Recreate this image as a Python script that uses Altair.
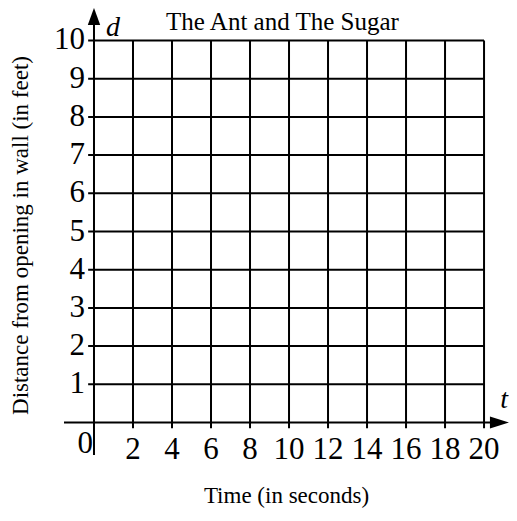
import altair as alt
import pandas as pd

# ---- data ----
title_text = "The Ant and The Sugar"
x_title = "Time (in seconds)"
y_title = "Distance from opening in wall (in feet)"
x_tick_values = [2, 4, 6, 8, 10, 12, 14, 16, 18, 20]
x_tick_labels = ["2", "4", "6", "8", "10", "12", "14", "16", "18", "20"]
y_tick_values = [1, 2, 3, 4, 5, 6, 7, 8, 9, 10]
y_tick_labels = ["1", "2", "3", "4", "5", "6", "7", "8", "9", "10"]
x_min, x_max = 0, 20
y_min, y_max = 0, 10
x_domain = [-1.538, 21.28]
y_domain = [-0.85, 10.85]

FONT = "Liberation Serif"
W, H = 445, 447

xs = alt.Scale(domain=x_domain, nice=False, zero=False)
ys = alt.Scale(domain=y_domain, nice=False, zero=False)
x_axis = alt.Axis(title=x_title, labels=False, ticks=False, domain=False, grid=False,
                  titleFont=FONT, titleFontSize=23, titleFontWeight="normal", titleColor="black",
                  titleX=222, titleY=40, titleAlign="center", titleBaseline="middle")
y_axis = alt.Axis(title=y_title, labels=False, ticks=False, domain=False, grid=False,
                  titleFont=FONT, titleFontSize=23, titleFontWeight="normal", titleColor="black",
                  titleX=-44, titleY=227, titleAlign="center", titleBaseline="middle", titleAngle=270)


def X(field):
    return alt.X(field, type="quantitative", scale=xs, axis=x_axis)


def Y(field):
    return alt.Y(field, type="quantitative", scale=ys, axis=y_axis)


vgrid_df = pd.DataFrame({"t": x_tick_values, "y0": [-0.15] * len(x_tick_values),
                         "y1": [y_max] * len(x_tick_values)})
hgrid_df = pd.DataFrame({"d": y_tick_values, "x0": [-0.3] * len(y_tick_values),
                         "x1": [x_max] * len(y_tick_values)})
xaxis_df = pd.DataFrame({"d": [0], "x0": [x_domain[0]], "x1": [20.8]})
yaxis_df = pd.DataFrame({"t": [0], "y0": [y_domain[0]], "y1": [10.5]})
xlab_df = pd.DataFrame({"t": x_tick_values, "d": [0] * len(x_tick_values), "label": x_tick_labels})
ylab_df = pd.DataFrame({"t": [0] * len(y_tick_values), "d": y_tick_values, "label": y_tick_labels})
zero_df = pd.DataFrame({"t": [0], "d": [0], "label": ["0"]})
up_df = pd.DataFrame({"t": [0], "d": [10.63]})
right_df = pd.DataFrame({"t": [20.79], "d": [0]})
dlab_df = pd.DataFrame({"t": [0], "d": [10], "label": ["d"]})
tlab_df = pd.DataFrame({"t": [20], "d": [0], "label": ["t"]})

vgrid = alt.Chart(vgrid_df).mark_rule(color="black", strokeWidth=2).encode(
    x=X("t"), y=Y("y0"), y2="y1")
hgrid = alt.Chart(hgrid_df).mark_rule(color="black", strokeWidth=2).encode(
    y=Y("d"), x=X("x0"), x2="x1")
xaxis_line = alt.Chart(xaxis_df).mark_rule(color="black", strokeWidth=2).encode(
    y=Y("d"), x=X("x0"), x2="x1")
yaxis_line = alt.Chart(yaxis_df).mark_rule(color="black", strokeWidth=2).encode(
    x=X("t"), y=Y("y0"), y2="y1")
up_arrow = alt.Chart(up_df).mark_point(shape="M0,-1L-0.73,1L0.73,1Z", size=289, filled=True,
                                       color="black", opacity=1).encode(x=X("t"), y=Y("d"))
right_arrow = alt.Chart(right_df).mark_point(shape="M1,0L-1,-0.63L-1,0.63Z", size=361, filled=True,
                                             color="black", opacity=1).encode(x=X("t"), y=Y("d"))
xlabels = alt.Chart(xlab_df).mark_text(font=FONT, fontSize=31, color="black", align="center",
                                       baseline="middle", dy=27).encode(
    x=X("t"), y=Y("d"), text="label:N")
ylabels = alt.Chart(ylab_df).mark_text(font=FONT, fontSize=31, color="black", align="right",
                                       baseline="middle", dx=-9).encode(
    x=X("t"), y=Y("d"), text="label:N")
zero_label = alt.Chart(zero_df).mark_text(font=FONT, fontSize=31, color="black", align="right",
                                          baseline="middle", dx=-1, dy=21).encode(
    x=X("t"), y=Y("d"), text="label:N")
d_label = alt.Chart(dlab_df).mark_text(font=FONT, fontSize=28, fontStyle="italic", color="black",
                                       align="left", baseline="alphabetic", dx=12, dy=-4).encode(
    x=X("t"), y=Y("d"), text="label:N")
t_label = alt.Chart(tlab_df).mark_text(font=FONT, fontSize=28, fontStyle="italic", color="black",
                                       align="center", baseline="alphabetic", dx=20, dy=-15).encode(
    x=X("t"), y=Y("d"), text="label:N")

chart = alt.layer(vgrid, hgrid, xaxis_line, yaxis_line, up_arrow, right_arrow,
                  xlabels, ylabels, zero_label, d_label, t_label).properties(
    width=W, height=H,
    title=alt.TitleParams(title_text, font=FONT, fontSize=25, fontWeight="normal", color="black",
                          anchor="middle", frame="group", offset=0, dy=47, dx=-4,
                          baseline="alphabetic"),
    autosize=alt.AutoSizeParams(type="none"),
    padding={"left": 56, "top": 0, "right": 0, "bottom": 56},
    background="white",
).configure_view(stroke=None)

chart.save("out.html", embed_options={"renderer": "svg", "actions": False})
